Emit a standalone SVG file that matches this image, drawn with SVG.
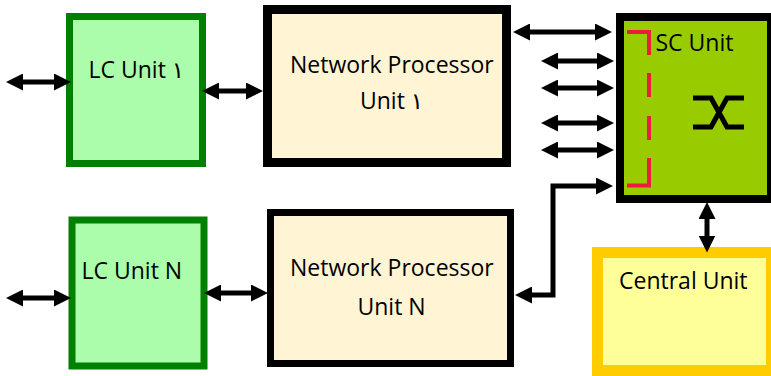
<svg xmlns="http://www.w3.org/2000/svg" width="771" height="376" viewBox="0 0 771 376">
<style>
text{font-family:"Open Sans","Noto Sans","DejaVu Sans",sans-serif;font-size:23px;fill:#000}
.lc{fill:#abfdab;stroke:#008000;stroke-width:7}
.np{fill:#fff4d4;stroke:#000}
.arr{fill:none;stroke:#000;stroke-width:5;marker-start:url(#ah);marker-end:url(#ah)}
</style>
<defs>
<marker id="ah" markerUnits="userSpaceOnUse" markerWidth="17" markerHeight="17" refX="1" refY="8.5" orient="auto-start-reverse" viewBox="0 0 17 17">
<path d="M0,0 L17,8.5 L0,17 z" fill="#000"/>
</marker>
</defs>
<rect width="771" height="376" fill="#fff"/>
<g id="lc1">
<rect class="lc" x="69.5" y="16.5" width="133" height="147"/>
<text x="88.5" y="78">LC Unit ١</text>
</g>
<g id="lcn">
<rect class="lc" x="72" y="220" width="132" height="146"/>
<text x="81.5" y="279">LC Unit N</text>
</g>
<g id="np1">
<rect class="np" x="267.5" y="9.5" width="239" height="153" stroke-width="9"/>
<text x="290" y="73">Network Processor</text>
<text x="360" y="109">Unit ١</text>
</g>
<g id="npn">
<rect class="np" x="270.5" y="212.5" width="240" height="151" stroke-width="7"/>
<text x="290" y="276">Network Processor</text>
<text x="357.5" y="315">Unit N</text>
</g>
<g id="sc">
<rect x="620" y="17" width="151" height="182" fill="#99cc00" stroke="#000" stroke-width="8"/>
<path d="M627,32 H649 V55 M649,73 V97 M649,116 V140 M649,158 V185.5 H627" fill="none" stroke="#ee1c3a" stroke-width="4"/>
<path d="M693,98 H711 L727,127 H744 M693,127 H711 L727,98 H744" fill="none" stroke="#000" stroke-width="5"/>
<text x="655.5" y="51">SC Unit</text>
</g>
<g id="central">
<rect x="597.5" y="252.5" width="174" height="118" fill="#ffff99" stroke="#ffcc00" stroke-width="11"/>
<text x="619" y="289">Central Unit</text>
</g>
<g id="connectors">
<path class="arr" d="M22,82 H55"/>
<path class="arr" d="M218,91 H247"/>
<path class="arr" d="M22,298 H55"/>
<path class="arr" d="M220,293 H252"/>
<path class="arr" d="M529,32 H596"/>
<path class="arr" d="M557,61 H598"/>
<path class="arr" d="M557,88 H598"/>
<path class="arr" d="M557,123 H598"/>
<path class="arr" d="M557,150 H598"/>
<path class="arr" d="M597,186 H553 V295 H531"/>
<path class="arr" d="M707,218 V236.5"/>
</g>
</svg>
